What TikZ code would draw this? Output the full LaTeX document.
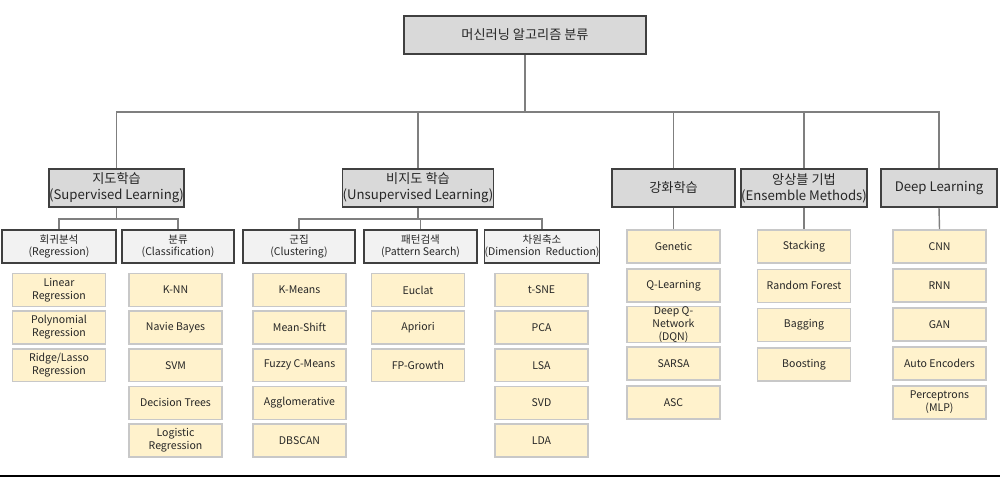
\documentclass[tikz,border=0pt]{standalone}
\usepackage{fontspec}
\setmainfont{Noto Sans CJK KR}
\usepackage{xcolor}
\usepackage{tikz}
\definecolor{ink}{HTML}{262626}
\definecolor{frame}{HTML}{404040}
\definecolor{wire}{HTML}{7F7F7F}
\definecolor{headfill}{HTML}{D9D9D9}
\definecolor{subfill}{HTML}{F2F2F2}
\definecolor{leaffill}{HTML}{FFF2CC}
\definecolor{leafline}{HTML}{C8C8C8}
\tikzset{
  box/.style={draw=frame, line width=0.9pt, text=ink, align=center, inner sep=0pt},
  top/.style={box, fill=headfill, minimum width=4.84cm, minimum height=0.76cm, font=\fontsize{7.5}{9}\selectfont},
  cat/.style={box, fill=headfill, minimum height=0.76cm, font=\fontsize{7.5}{9}\selectfont},
  sub/.style={box, fill=subfill, minimum height=0.66cm, font=\fontsize{6}{6.8}\selectfont},
  leaf/.style={draw=leafline, line width=0.9pt, fill=leaffill, text=ink, align=center, inner sep=0pt,
    minimum width=1.86cm, minimum height=0.66cm, font=\fontsize{6}{7.4}\selectfont},
  link/.style={draw=wire, line width=0.8pt},
}

\begin{document}
\begin{tikzpicture}[x=0.02cm, y=-0.02cm]
  \useasboundingbox (0,0) rectangle (1000,477);
  % root and first level
  \node[top] (root) at (525,35) {머신러닝 알고리즘 분류};
  \node[cat, minimum width=2.70cm] (sup) at (116.5,188) {지도학습\\(Supervised Learning)};
  \node[cat, minimum width=2.92cm] (uns) at (418,188) {비지도 학습\\(Unsupervised Learning)};
  \node[cat, minimum width=2.46cm] (rl) at (673.5,188) {강화학습};
  \node[cat, minimum width=2.32cm] (ens) at (804,188) {앙상블 기법\\(Ensemble Methods)};
  \node[cat, minimum width=2.32cm] (dl) at (939,188) {Deep Learning};
  \coordinate (bus) at (525,112);
  \draw[link] (root.south) -- (bus);
  \foreach \n in {sup,uns,rl,ens,dl}
    \draw[link] (\n.north) |- (bus);

  % second level
  \node[sub, minimum width=2.28cm] (reg) at (59,246.5) {회귀분석\\(Regression)};
  \node[sub, minimum width=2.24cm] (cls) at (178,246.5) {분류\\(Classification)};
  \node[sub, minimum width=2.24cm] (clu) at (299,246.5) {군집\\(Clustering)};
  \node[sub, minimum width=2.26cm] (pat) at (420.5,246.5) {패턴검색\\(Pattern Search)};
  \node[sub, minimum width=2.24cm] (dim) at (542,246.5) {차원축소\\(Dimension~~Reduction)};
  \coordinate (supbus) at (116.5,219);
  \coordinate (unsbus) at (418,219);
  \draw[link] (sup.south) -- (supbus);
  \draw[link] (uns.south) -- (unsbus);
  \foreach \n in {reg,cls}
    \draw[link] (\n.north) |- (supbus);
  \foreach \n in {clu,pat,dim}
    \draw[link] (\n.north) |- (unsbus);

  % leaves under the second level
  \foreach \t [count=\i] in {{Linear\\Regression},{Polynomial\\Regression},{Ridge/Lasso\\Regression}}
    \node[leaf] (reg\i) at (59,{290+(\i-1)*37.6}) {\t};
  \foreach \t [count=\i] in {K-NN,Navie Bayes,SVM,Decision Trees,{Logistic\\Regression}}
    \node[leaf] (cls\i) at (175.5,{290+(\i-1)*37.6}) {\t};
  \foreach \t [count=\i] in {K-Means,Mean-Shift,Fuzzy C-Means,Agglomerative,DBSCAN}
    \node[leaf] (clu\i) at (299.5,{290+(\i-1)*37.6}) {\t};
  \foreach \t [count=\i] in {Euclat,Apriori,FP-Growth}
    \node[leaf] (pat\i) at (418,{290+(\i-1)*37.6}) {\t};
  \foreach \t [count=\i] in {t-SNE,PCA,LSA,SVD,LDA}
    \node[leaf] (dim\i) at (541.5,{290+(\i-1)*37.6}) {\t};

  % leaves under the first level
  \foreach \t [count=\i] in {Genetic,Q-Learning,{Deep Q-\\Network\\(DQN)},SARSA,ASC}
    \node[leaf] (rl\i) at (673.5,{246.5+(\i-1)*39}) {\t};
  \foreach \t [count=\i] in {Stacking,Random Forest,Bagging,Boosting}
    \node[leaf] (ens\i) at (804,{246.5+(\i-1)*39.3}) {\t};
  \foreach \t [count=\i] in {CNN,RNN,GAN,Auto Encoders,{Perceptrons\\(MLP)}}
    \node[leaf] (dl\i) at (939.5,{246.5+(\i-1)*39}) {\t};
  \foreach \n in {rl,ens,dl}
    \draw[link] (\n.south) -- (\n1.north);

  \draw[line width=1.1pt, black] (0,476) -- (1000,476);
\end{tikzpicture}
\end{document}
